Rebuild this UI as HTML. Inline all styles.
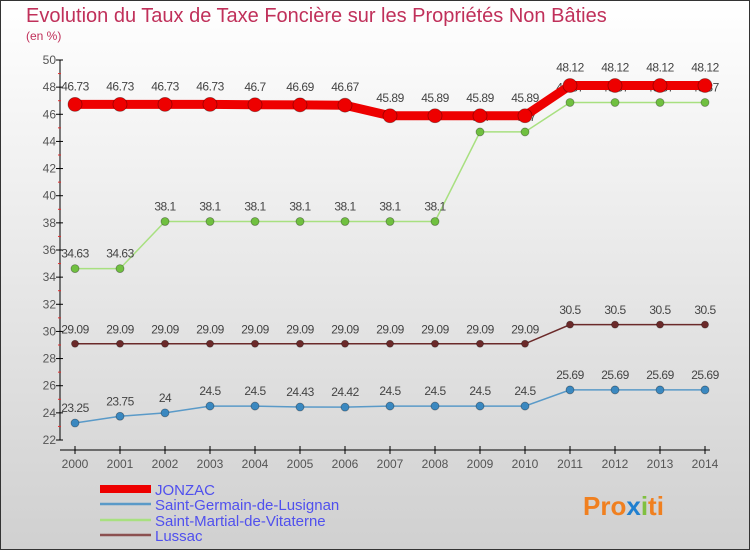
<!DOCTYPE html>
<html><head><meta charset="utf-8"><style>
body{margin:0;width:750px;height:550px;overflow:hidden}
svg{display:block;font-family:"Liberation Sans",sans-serif}
</style></head><body>
<svg width="750" height="550" id="c">
<defs><linearGradient id="bg" x1="0" y1="0" x2="0" y2="1"><stop offset="0" stop-color="#ffffff"/><stop offset="1" stop-color="#d0d0d0"/></linearGradient></defs>
<rect x="0.5" y="0.5" width="749" height="549" fill="url(#bg)" stroke="#333"/>
<text x="26" y="22" font-size="20" fill="#c0305a" font-weight="normal">Evolution du Taux de Taxe Foncière sur les Propriétés Non Bâties</text>
<text x="26" y="40" font-size="12" fill="#c0305a">(en %)</text>
<g id="axes"></g><g id="series"></g><g id="legend"></g>
<text x="583" y="515" font-size="26" font-weight="bold" fill="#f08020">Pro<tspan fill="#2080d0">x</tspan><tspan fill="#80c040">i</tspan>ti</text>
</svg>
<script>
const years=[2000,2001,2002,2003,2004,2005,2006,2007,2008,2009,2010,2011,2012,2013,2014];
const yTicks=[22,24,26,28,30,32,34,36,38,40,42,44,46,48,50];
const jonzac=[46.73,46.73,46.73,46.73,46.7,46.69,46.67,45.89,45.89,45.89,45.89,48.12,48.12,48.12,48.12];
const stGermain=[23.25,23.75,24,24.5,24.5,24.43,24.42,24.5,24.5,24.5,24.5,25.69,25.69,25.69,25.69];
const stMartial=[34.63,34.63,38.1,38.1,38.1,38.1,38.1,38.1,38.1,44.7,44.7,46.87,46.87,46.87,46.87];
const lussac=[29.09,29.09,29.09,29.09,29.09,29.09,29.09,29.09,29.09,29.09,29.09,30.5,30.5,30.5,30.5];
const names=["JONZAC","Saint-Germain-de-Lusignan","Saint-Martial-de-Vitaterne","Lussac"];
const NS="http://www.w3.org/2000/svg";
const X=i=>75+i*45, Y=v=>440-(v-22)*380/28;
function mk(p,t,a){const e=document.createElementNS(NS,t);for(const k in a)e.setAttribute(k,a[k]);p.appendChild(e);return e;}
const ax=document.getElementById('axes');
let l=mk(ax,'line',{x1:60,y1:60,x2:60,y2:440,stroke:'#000'});


l=mk(ax,'line',{x1:60,y1:450,x2:710,y2:450,stroke:'#000'});


yTicks.forEach(v=>{
 mk(ax,'line',{x1:56,y1:Y(v),x2:63,y2:Y(v),stroke:'#000'});
 if(v<50)mk(ax,'line',{x1:58,y1:Y(v+1),x2:61,y2:Y(v+1),stroke:'#e03030'});
 const t=mk(ax,'text',{x:56,y:Y(v)+4,'font-size':12,'text-anchor':'end',fill:'#555'});t.textContent=v;
 
 
});
years.forEach((y,i)=>{
 mk(ax,'line',{x1:X(i),y1:446,x2:X(i),y2:454,stroke:'#000'});
 const t=mk(ax,'text',{x:X(i),y:468,'font-size':12,'text-anchor':'middle',fill:'#555'});t.textContent=y;
 
 
});
const sg=document.getElementById('series');
const defs=[[lussac,'#6b2a2a','#6b2a2a',1.5,3.5],[stGermain,'#5a9ac8','#3a88c0',1.5,4],[stMartial,'#a8e080','#70c040',1.5,4],[jonzac,'#ee0000','#ee0000',9,7]];
defs.forEach(([d,c,mc,w,r],si)=>{
 const p=mk(sg,'polyline',{points:d.map((v,i)=>X(i)+','+Y(v)).join(' '),fill:'none',stroke:c,'stroke-width':w});
 
 
 d.forEach((v,i)=>{
  const m=mk(sg,'circle',{cx:X(i),cy:Y(v),r:r,fill:mc,stroke:'rgba(0,0,0,0.35)','stroke-width':0.8});
  
  
  const t=mk(sg,'text',{x:X(i),y:Y(v)-(r+7),'font-size':12,'text-anchor':'middle',fill:'#444','letter-spacing':'-0.5'});t.textContent=v;
  
  
 });
});
const lg=document.getElementById('legend');
const lc=['#ee0000','#5a9ac8','#a8e080','#8b5050'],lw=[8,2.5,2.5,2.5],ly=[492,507,523,538];
names.forEach((n,i)=>{
 const ln=mk(lg,'line',{x1:100,y1:ly[i]-3,x2:151,y2:ly[i]-3,stroke:lc[i],'stroke-width':lw[i]});
 
 
 const t=mk(lg,'text',{x:155,y:ly[i]+3,'font-size':15,fill:'#5050ee'});t.textContent=n;
 
 
});
</script>
</body></html>
